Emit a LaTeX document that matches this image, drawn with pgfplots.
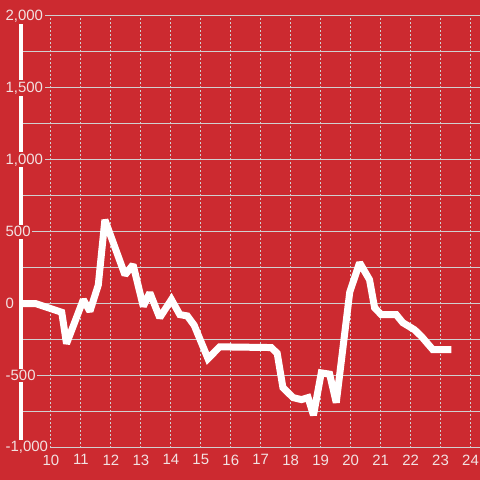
\documentclass[border=0pt]{standalone}
\usepackage{fontspec}
\setmainfont{Liberation Sans}
\setsansfont{Liberation Sans}
\usepackage{pgfplots}
\pgfplotsset{compat=1.18}
\definecolor{bgred}{RGB}{204,42,48}
\definecolor{gridcol}{RGB}{208,208,208}
\definecolor{labcol}{RGB}{242,226,226}
\definecolor{zerocol}{RGB}{240,236,236}

\begin{document}
\begin{tikzpicture}
\begin{axis}[
    at={(21bp,32bp)}, anchor=south west,
    scale only axis,
    width=459bp, height=432bp,
    xmin=9, xmax=24.3,
    ymin=-1000, ymax=2000,
    set layers=standard,
    clip=false,
    axis lines*=left,
    x axis line style={draw=gridcol, line width=1bp},
    y axis line style={draw=white, line width=3.5bp},
    major tick length=0, minor tick length=0,
    xtick={10,...,24},
    xticklabels={10,11,12,13,14,15,16,17,18,19,20,21,22,23,24},
    ytick={-1000,-500,500,1000,1500,2000},
    yticklabels={{-1,000},{-500},{500},{1,000},{1,500},{2,000}},
    minor ytick={-750,-250,250,750,1250,1750},
    extra y ticks={0},
    extra y tick labels={0},
    extra y tick style={major grid style={draw=zerocol, line width=3bp}},
    xmajorgrids, ymajorgrids, yminorgrids,
    every axis x grid/.style={draw=gridcol, line width=0.9bp, dash pattern=on 2bp off 2bp},
    major y grid style={draw=gridcol, line width=1bp},
    minor y grid style={draw=gridcol, line width=1bp},
    yticklabel style={anchor=west, xshift=-17bp, fill=bgred, inner sep=1.5bp,
        text=labcol, font=\fontsize{15}{17}\selectfont},
    xticklabel style={text=labcol, font=\fontsize{15}{17}\selectfont,
        inner sep=1bp, yshift=-6bp},
]
\begin{pgfonlayer}{axis background}
\fill[bgred] (rel axis cs:-0.045752,-0.074074) rectangle (rel axis cs:1,1.037037);
\end{pgfonlayer}
\addplot[white, line width=7bp, line join=miter, miter limit=2] coordinates {
    (9.0,0) (9.5,0) (10.36,-60) (10.52,-278) (11.08,28) (11.3,-53)
    (11.58,130) (11.8,583) (12.47,200) (12.74,271) (13.08,-18) (13.3,76)
    (13.63,-97) (14.02,28) (14.3,-76) (14.55,-85) (14.78,-150) (15.24,-382)
    (15.63,-300) (17.35,-305) (17.55,-345) (17.74,-583) (18.08,-653)
    (18.36,-667) (18.58,-653) (18.76,-775) (19.02,-481) (19.3,-490)
    (19.52,-688) (19.97,80) (20.3,285) (20.63,167) (20.8,-28) (21.02,-76)
    (21.52,-76) (21.74,-132) (22.13,-181) (22.36,-227) (22.74,-319)
    (23.36,-319)
};
\end{axis}
\end{tikzpicture}
\end{document}
